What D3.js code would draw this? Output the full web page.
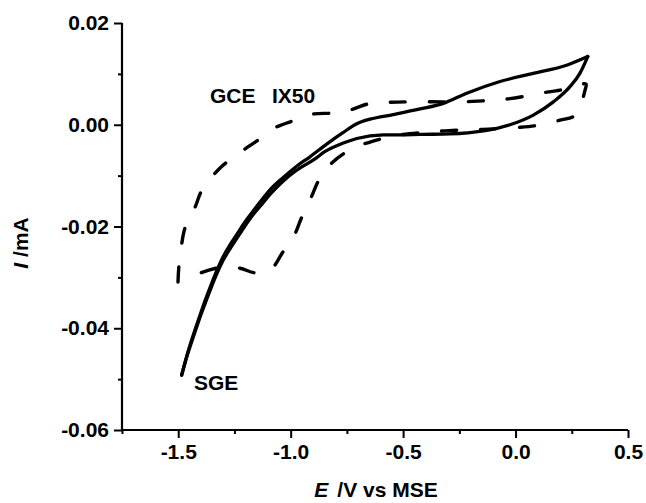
<!DOCTYPE html>
<html><head><meta charset="utf-8">
<script src="https://cdn.jsdelivr.net/npm/d3@7/dist/d3.min.js"></script>
<style>
body{margin:0;background:#fff;}
svg{display:block;}
text{font-family:"Liberation Sans",Arial,sans-serif;font-weight:bold;fill:#000;}
</style></head>
<body><svg id="chart" width="646" height="503"></svg>
<script>
// SGE (solid) - upper branch from -1.5 V to vertex, then return branch
const sgeUpE = [-1.4846,-1.4610,-1.4343,-1.4076,-1.3809,-1.3543,-1.3276,-1.3009,-1.2698,-1.2387,-1.2031,-1.1675,-1.1275,-1.0919,-1.0341,-0.9719,-0.9139,-0.840,-0.766,-0.706,-0.647,-0.544,-0.425,-0.321,-0.217,-0.069,0.079,0.227,0.321];
const sgeUpI = [-0.0492,-0.0453,-0.0415,-0.0380,-0.0346,-0.0315,-0.0286,-0.0260,-0.0236,-0.0215,-0.0191,-0.0170,-0.0147,-0.0128,-0.0104,-0.0081,-0.0063,-0.0038,-0.0015,0.0002,0.0011,0.0020,0.0031,0.0042,0.0062,0.0085,0.0101,0.0117,0.0134];
const sgeDownE = [0.321,0.286,0.242,0.168,0.079,-0.025,-0.143,-0.292,-0.425,-0.514,-0.588,-0.706,-0.766,-0.8485,-0.8917,-0.9719,-1.0341,-1.0919,-1.1275,-1.1675,-1.2031,-1.2387,-1.2698,-1.3009,-1.3276,-1.3543,-1.3809,-1.4076,-1.4343,-1.4610,-1.4846];
const sgeDownI = [0.0134,0.0101,0.0075,0.0045,0.0019,0.0000,-0.0012,-0.0018,-0.0019,-0.0020,-0.0020,-0.0027,-0.0036,-0.0053,-0.0067,-0.0089,-0.0111,-0.0137,-0.0156,-0.0177,-0.0199,-0.0223,-0.0244,-0.0267,-0.0292,-0.0321,-0.0352,-0.0384,-0.0419,-0.0455,-0.0492];
// GCE IX50 (dashed)
const gceE = [-1.501,-1.497,-1.485,-1.470,-1.425,-1.394,-1.314,-1.239,-1.145,-1.070,-0.981,-0.901,-0.812,-0.736,-0.647,-0.567,-0.469,-0.323,-0.234,-0.145,-0.069,0.029,0.109,0.198,0.255,0.313,0.309,0.286,0.260,0.198,0.116,0.020,-0.056,-0.145,-0.220,-0.314,-0.380,-0.514,-0.581,-0.647,-0.723,-0.812,-0.870,-0.914,-0.950,-0.990,-1.034,-1.092,-1.159,-1.225,-1.305,-1.399,-1.443,-1.492];
const gceI = [-0.0309,-0.0278,-0.0236,-0.0203,-0.0162,-0.0128,-0.0085,-0.0059,-0.0030,-0.0006,0.0009,0.0021,0.0023,0.0029,0.0042,0.0044,0.0045,0.0045,0.0045,0.0047,0.0049,0.0055,0.0062,0.0068,0.0075,0.0080,0.0068,0.0035,0.0017,0.0009,0.0000,-0.0005,-0.0007,-0.0009,-0.0010,-0.0012,-0.0014,-0.0020,-0.0026,-0.0034,-0.0046,-0.0073,-0.0105,-0.0148,-0.0181,-0.0223,-0.0250,-0.0286,-0.0291,-0.0282,-0.0280,-0.0291,-0.0301,-0.0309];

const xMajor = [-1.5,-1.0,-0.5,0.0,0.5];
const xMajorLabels = ["-1.5","-1.0","-0.5","0.0","0.5"];
const xMinor = [-1.75,-1.25,-0.75,-0.25,0.25];
const yMajor = [0.02,0.00,-0.02,-0.04,-0.06];
const yMajorLabels = ["0.02","0.00","-0.02","-0.04","-0.06"];
const yMinor = [0.01,-0.01,-0.03,-0.05];

const svg = d3.select("#chart");
svg.append("rect").attr("width",646).attr("height",503).attr("fill","#fff");
const x = d3.scaleLinear().domain([-1.75,0.5]).range([122,628]);
const y = d3.scaleLinear().domain([-0.06,0.02]).range([430,23]);

// axes
const gx = svg.append("g").attr("transform","translate(0,430)");
gx.call(d3.axisBottom(x).tickValues(xMajor).tickSize(8).tickPadding(6).tickFormat((d,i)=>xMajorLabels[i]));
const gxm = svg.append("g").attr("transform","translate(0,430)");
gxm.call(d3.axisBottom(x).tickValues(xMinor).tickSize(4).tickFormat(""));
const gy = svg.append("g").attr("transform","translate(122,0)");
gy.call(d3.axisLeft(y).tickValues(yMajor).tickSize(8).tickPadding(5).tickFormat((d,i)=>yMajorLabels[i]));
const gym = svg.append("g").attr("transform","translate(122,0)");
gym.call(d3.axisLeft(y).tickValues(yMinor).tickSize(4).tickFormat(""));
svg.selectAll(".domain").attr("stroke","#000").attr("stroke-width",2.2);
svg.selectAll(".tick line").attr("stroke","#000").attr("stroke-width",2);
svg.selectAll(".tick text").attr("font-family","Liberation Sans, Arial, sans-serif").attr("font-weight","bold").attr("font-size",21).attr("fill","#000");
gxm.select(".domain").remove(); gym.select(".domain").remove();
gx.select(".domain").attr("d","M122,0H628");
gy.select(".domain").attr("d","M0,430V23");

// lines
const lineM = d3.line().x(d=>x(d[0])).y(d=>y(d[1])).curve(d3.curveMonotoneX);
const lineC = d3.line().x(d=>x(d[0])).y(d=>y(d[1])).curve(d3.curveCatmullRom.alpha(0.5));
const sgeUp = sgeUpE.map((e,i)=>[e,sgeUpI[i]]);
const sgeDown = sgeDownE.map((e,i)=>[e,sgeDownI[i]]);
const gce = gceE.map((e,i)=>[e,gceI[i]]);
svg.append("path").attr("d",lineC(gce)).attr("fill","none").attr("stroke","#000")
  .attr("stroke-width",3.4).attr("stroke-dasharray","15,24").attr("stroke-linecap","round");
svg.append("path").attr("d",lineM(sgeUp)).attr("fill","none").attr("stroke","#000").attr("stroke-width",3.3).attr("stroke-linejoin","round").attr("stroke-linecap","round");
svg.append("path").attr("d",lineM(sgeDown.slice().reverse())).attr("fill","none").attr("stroke","#000").attr("stroke-width",3.3).attr("stroke-linejoin","round").attr("stroke-linecap","round");

// labels
svg.append("text").attr("x",210).attr("y",103).attr("font-size",21).text("GCE");
svg.append("text").attr("x",272).attr("y",103).attr("font-size",21).text("IX50");
svg.append("text").attr("x",194).attr("y",390).attr("font-size",21).text("SGE");

const xt = svg.append("text").attr("x",376).attr("y",497).attr("text-anchor","middle").attr("font-size",21);
xt.append("tspan").attr("font-style","italic").text("E");
xt.append("tspan").attr("dx",9).text("/V vs MSE");
const yt = svg.append("text").attr("transform","translate(28,243) rotate(-90)").attr("text-anchor","middle").attr("font-size",21);
yt.append("tspan").attr("font-style","italic").text("I");
yt.append("tspan").attr("dx",6).text("/mA");
</script></body></html>
